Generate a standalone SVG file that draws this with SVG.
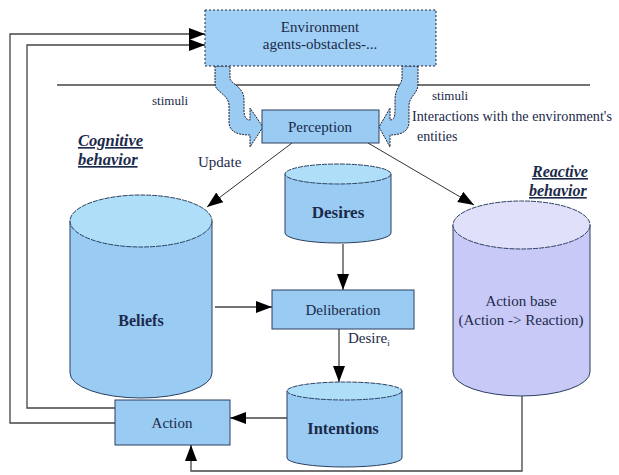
<svg xmlns="http://www.w3.org/2000/svg" width="619" height="475" viewBox="0 0 619 475" font-family="'Liberation Serif', 'Times New Roman', Times, 'DejaVu Serif', serif" font-size="15">
<defs>
<style>
text{font-family:'Liberation Serif','Times New Roman',Times,'DejaVu Serif',serif;fill:#1b2a4a}
.c{text-anchor:middle}
.b{font-weight:bold}
.box{fill:#9acbf3;stroke:#2a3f5f;stroke-width:1}
.cylb{fill:#9acbf3;stroke:#2a3f5f;stroke-width:1}
.cylt{fill:#afdef9;stroke:#2a3f5f;stroke-width:1;stroke-dasharray:5 1}
.pb{fill:#c9c9f7;stroke:#2a3f5f;stroke-width:1}
.pt{fill:#e0e0fb;stroke:#2a3f5f;stroke-width:1;stroke-dasharray:5 1}
.ln{fill:none;stroke:#444;stroke-width:1.3}
.thin{fill:none;stroke:#333;stroke-width:1}
.blk{fill:#9acbf3;stroke:#223;stroke-width:1;stroke-dasharray:2 1}
</style>
<marker id="ah" viewBox="0 0 16 12" refX="16" refY="6" markerWidth="16" markerHeight="12" markerUnits="userSpaceOnUse" orient="auto">
<path d="M0,0 L16,6 L0,12 Z" fill="#000"/>
</marker>
</defs>
<rect width="619" height="475" fill="#fff"/>

<g id="connectors">
<line class="ln" x1="57" y1="85" x2="590" y2="85"/>
<polyline class="ln" points="115,423 10,423 10,34 205,34" marker-end="url(#ah)"/>
<polyline class="ln" points="115,408 27,408 27,45 205,45" marker-end="url(#ah)"/>
<line class="thin" x1="292" y1="143" x2="207" y2="207" marker-end="url(#ah)"/>
<line class="thin" x1="368" y1="143" x2="474" y2="205" marker-end="url(#ah)"/>
<line class="ln" x1="215" y1="307" x2="272" y2="307" marker-end="url(#ah)"/>
<line class="ln" x1="343" y1="244" x2="343" y2="290" marker-end="url(#ah)"/>
<line class="ln" x1="339" y1="329" x2="339" y2="382" marker-end="url(#ah)"/>
<line class="ln" x1="287" y1="418" x2="230" y2="418" marker-end="url(#ah)"/>
<polyline class="ln" points="522,395 522,471 191,471 191,445" marker-end="url(#ah)"/>
<path class="blk" d="M215,66 L215,84 C215,92 229,94 229,106 L229,122 C229,132 238,135 250,135 L250,147 L263,127 L250,108 L250,120 C246,120 244,117 244,110 L244,100 C244,86 230,84 230,78 L230,66 Z"/>
<path class="blk" d="M418,66 L418,84 C418,94 409,96 409,106 L409,122 C409,132 400,135 390,135 L390,147 L379,127 L390,108 L390,120 C394,120 395,117 395,110 L395,100 C395,88 402,84 402,78 L402,66 Z"/>
</g>

<g id="environment">
<rect x="205" y="10" width="231" height="56" fill="#a0cff5" stroke="#223" stroke-width="1" stroke-dasharray="2 2"/>
<text class="c" x="320" y="32">Environment</text>
<text class="c" x="320" y="49">agents-obstacles-...</text>
</g>

<g id="perception">
<rect class="box" x="262" y="110" width="117" height="33"/>
<text class="c" x="320" y="132">Perception</text>
</g>

<g id="labels">
<text x="152" y="105" font-size="13">stimuli</text>
<text x="432" y="100" font-size="13">stimuli</text>
<text x="412" y="121" font-size="14.2">Interactions with the environment's</text>
<text x="417" y="141" font-size="14">entities</text>
<text x="198" y="167">Update</text>
<text x="78" y="146" class="b" font-style="italic" text-decoration="underline" font-size="16.5">Cognitive</text>
<text x="78" y="165" class="b" font-style="italic" text-decoration="underline" font-size="16.5">behavior</text>
<text x="532" y="177" class="b" font-style="italic" text-decoration="underline" font-size="16">Reactive</text>
<text x="529" y="196" class="b" font-style="italic" text-decoration="underline" font-size="16">behavior</text>
<text x="348" y="343">Desire<tspan font-size="9" dy="3">i</tspan></text>
</g>

<g id="beliefs">
<path class="cylb" d="M70,221 L70,373 A71,25 0 0 0 212,373 L212,221 Z"/>
<ellipse class="cylt" cx="141" cy="221" rx="71" ry="26"/>
<text class="c b" x="141" y="326" font-size="16">Beliefs</text>
</g>

<g id="desires">
<path class="cylb" d="M285,174 L285,233 A53,10 0 0 0 391,233 L391,174 Z"/>
<ellipse class="cylt" cx="338" cy="174" rx="53" ry="10"/>
<text class="c b" x="338" y="218" font-size="17">Desires</text>
</g>

<g id="deliberation">
<rect class="box" x="272" y="290" width="142" height="39"/>
<text class="c" x="343" y="315">Deliberation</text>
</g>

<g id="intentions">
<path class="cylb" d="M287,391 L287,458 A57.5,9 0 0 0 402,458 L402,391 Z"/>
<ellipse class="cylt" cx="344.5" cy="391" rx="57.5" ry="9"/>
<text class="c b" x="343" y="434" font-size="16.5">Intentions</text>
</g>

<g id="action">
<rect class="box" x="115" y="400" width="115" height="45"/>
<text class="c" x="172" y="428">Action</text>
</g>

<g id="action-base">
<path class="pb" d="M453,225 L453,372 A68.5,24 0 0 0 590,372 L590,225 Z"/>
<ellipse class="pt" cx="521.5" cy="225" rx="68.5" ry="24"/>
<text class="c" x="521" y="306">Action base</text>
<text class="c" x="521" y="325">(Action -&gt; Reaction)</text>
</g>
</svg>
